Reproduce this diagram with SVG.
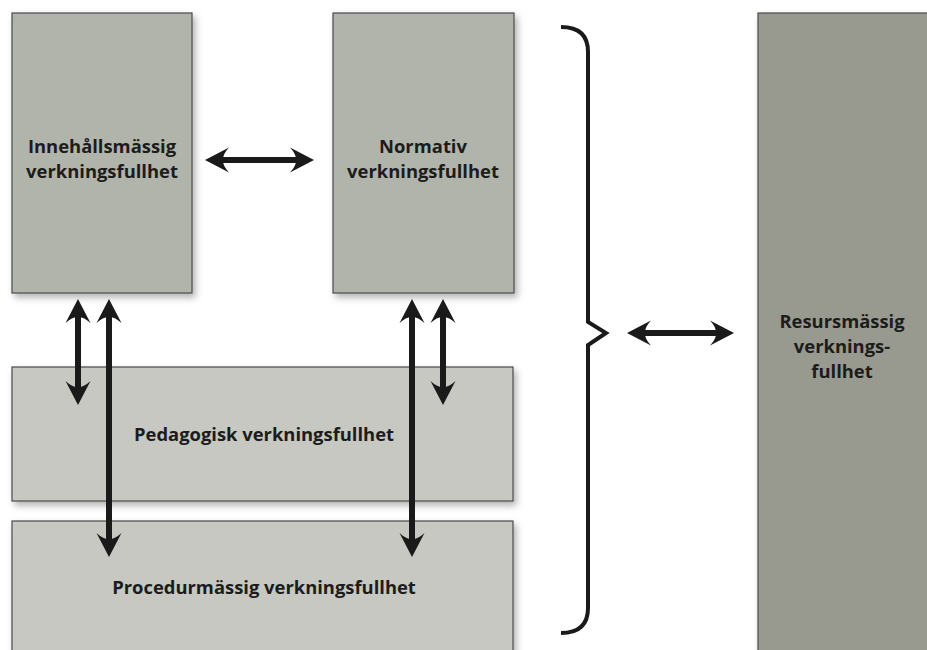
<svg xmlns="http://www.w3.org/2000/svg" width="927" height="650" viewBox="0 0 927 650">
<defs>
<filter id="sh" x="-10%" y="-10%" width="130%" height="130%">
<feDropShadow dx="3" dy="4" stdDeviation="3.5" flood-color="#000" flood-opacity="0.3"/>
</filter>
<marker id="ah" markerUnits="userSpaceOnUse" markerWidth="28" markerHeight="28" refX="13" refY="14" orient="auto-start-reverse">
<path d="M26,14 L2,1.5 Q8.5,8.5 8,14 Q8.5,19.5 2,26.5 Z" fill="#1a1a1a"/>
</marker>
<style>
.box{stroke:#4a4a4a;stroke-width:1.2;filter:url(#sh)}
.b1{fill:#b1b4ab}
.b2{fill:#c6c8c1}
.b3{fill:#989a90}
.t{font-family:"Open Sans","Liberation Sans",sans-serif;font-weight:bold;font-size:18.4px;fill:#1c1c1c;text-anchor:middle}
.arr{stroke:#1a1a1a;stroke-width:6;fill:none;marker-start:url(#ah);marker-end:url(#ah)}
.brace{stroke:#1a1a1a;stroke-width:4;fill:none;stroke-linejoin:miter}
</style>
</defs>
<rect width="927" height="650" fill="#fff"/>
<g id="resurs">
<rect class="box b3" x="758" y="13" width="190" height="660"/>
<text class="t" x="842" y="328">Resursmässig</text>
<text class="t" x="842" y="353">verknings-</text>
<text class="t" x="842" y="378">fullhet</text>
</g>
<g id="procedur">
<rect class="box b2" x="12" y="521" width="501" height="160"/>
<text class="t" x="264" y="594">Procedurmässig verkningsfullhet</text>
</g>
<g id="pedagogisk">
<rect class="box b2" x="12" y="367" width="501" height="134"/>
<text class="t" x="264" y="441">Pedagogisk verkningsfullhet</text>
</g>
<g id="innehall">
<rect class="box b1" x="12" y="13" width="180" height="280"/>
<text class="t" x="102" y="153">Innehållsmässig</text>
<text class="t" x="102" y="178">verkningsfullhet</text>
</g>
<g id="normativ">
<rect class="box b1" x="333" y="13" width="181" height="280"/>
<text class="t" x="423" y="153">Normativ</text>
<text class="t" x="423" y="178">verkningsfullhet</text>
</g>
<g id="connectors">
<line class="arr" x1="218" y1="160" x2="301" y2="160"/>
<line class="arr" x1="640" y1="333" x2="721" y2="333"/>
<line class="arr" x1="78" y1="312" x2="78" y2="392"/>
<line class="arr" x1="109" y1="312" x2="109" y2="544"/>
<line class="arr" x1="412" y1="312" x2="412" y2="544"/>
<line class="arr" x1="443" y1="312" x2="443" y2="392"/>
<path class="brace" d="M561,27 Q588,27 588,52 L588,322 L606,333 L588,345 L588,608 Q588,633 561,633"/>
</g>
</svg>
